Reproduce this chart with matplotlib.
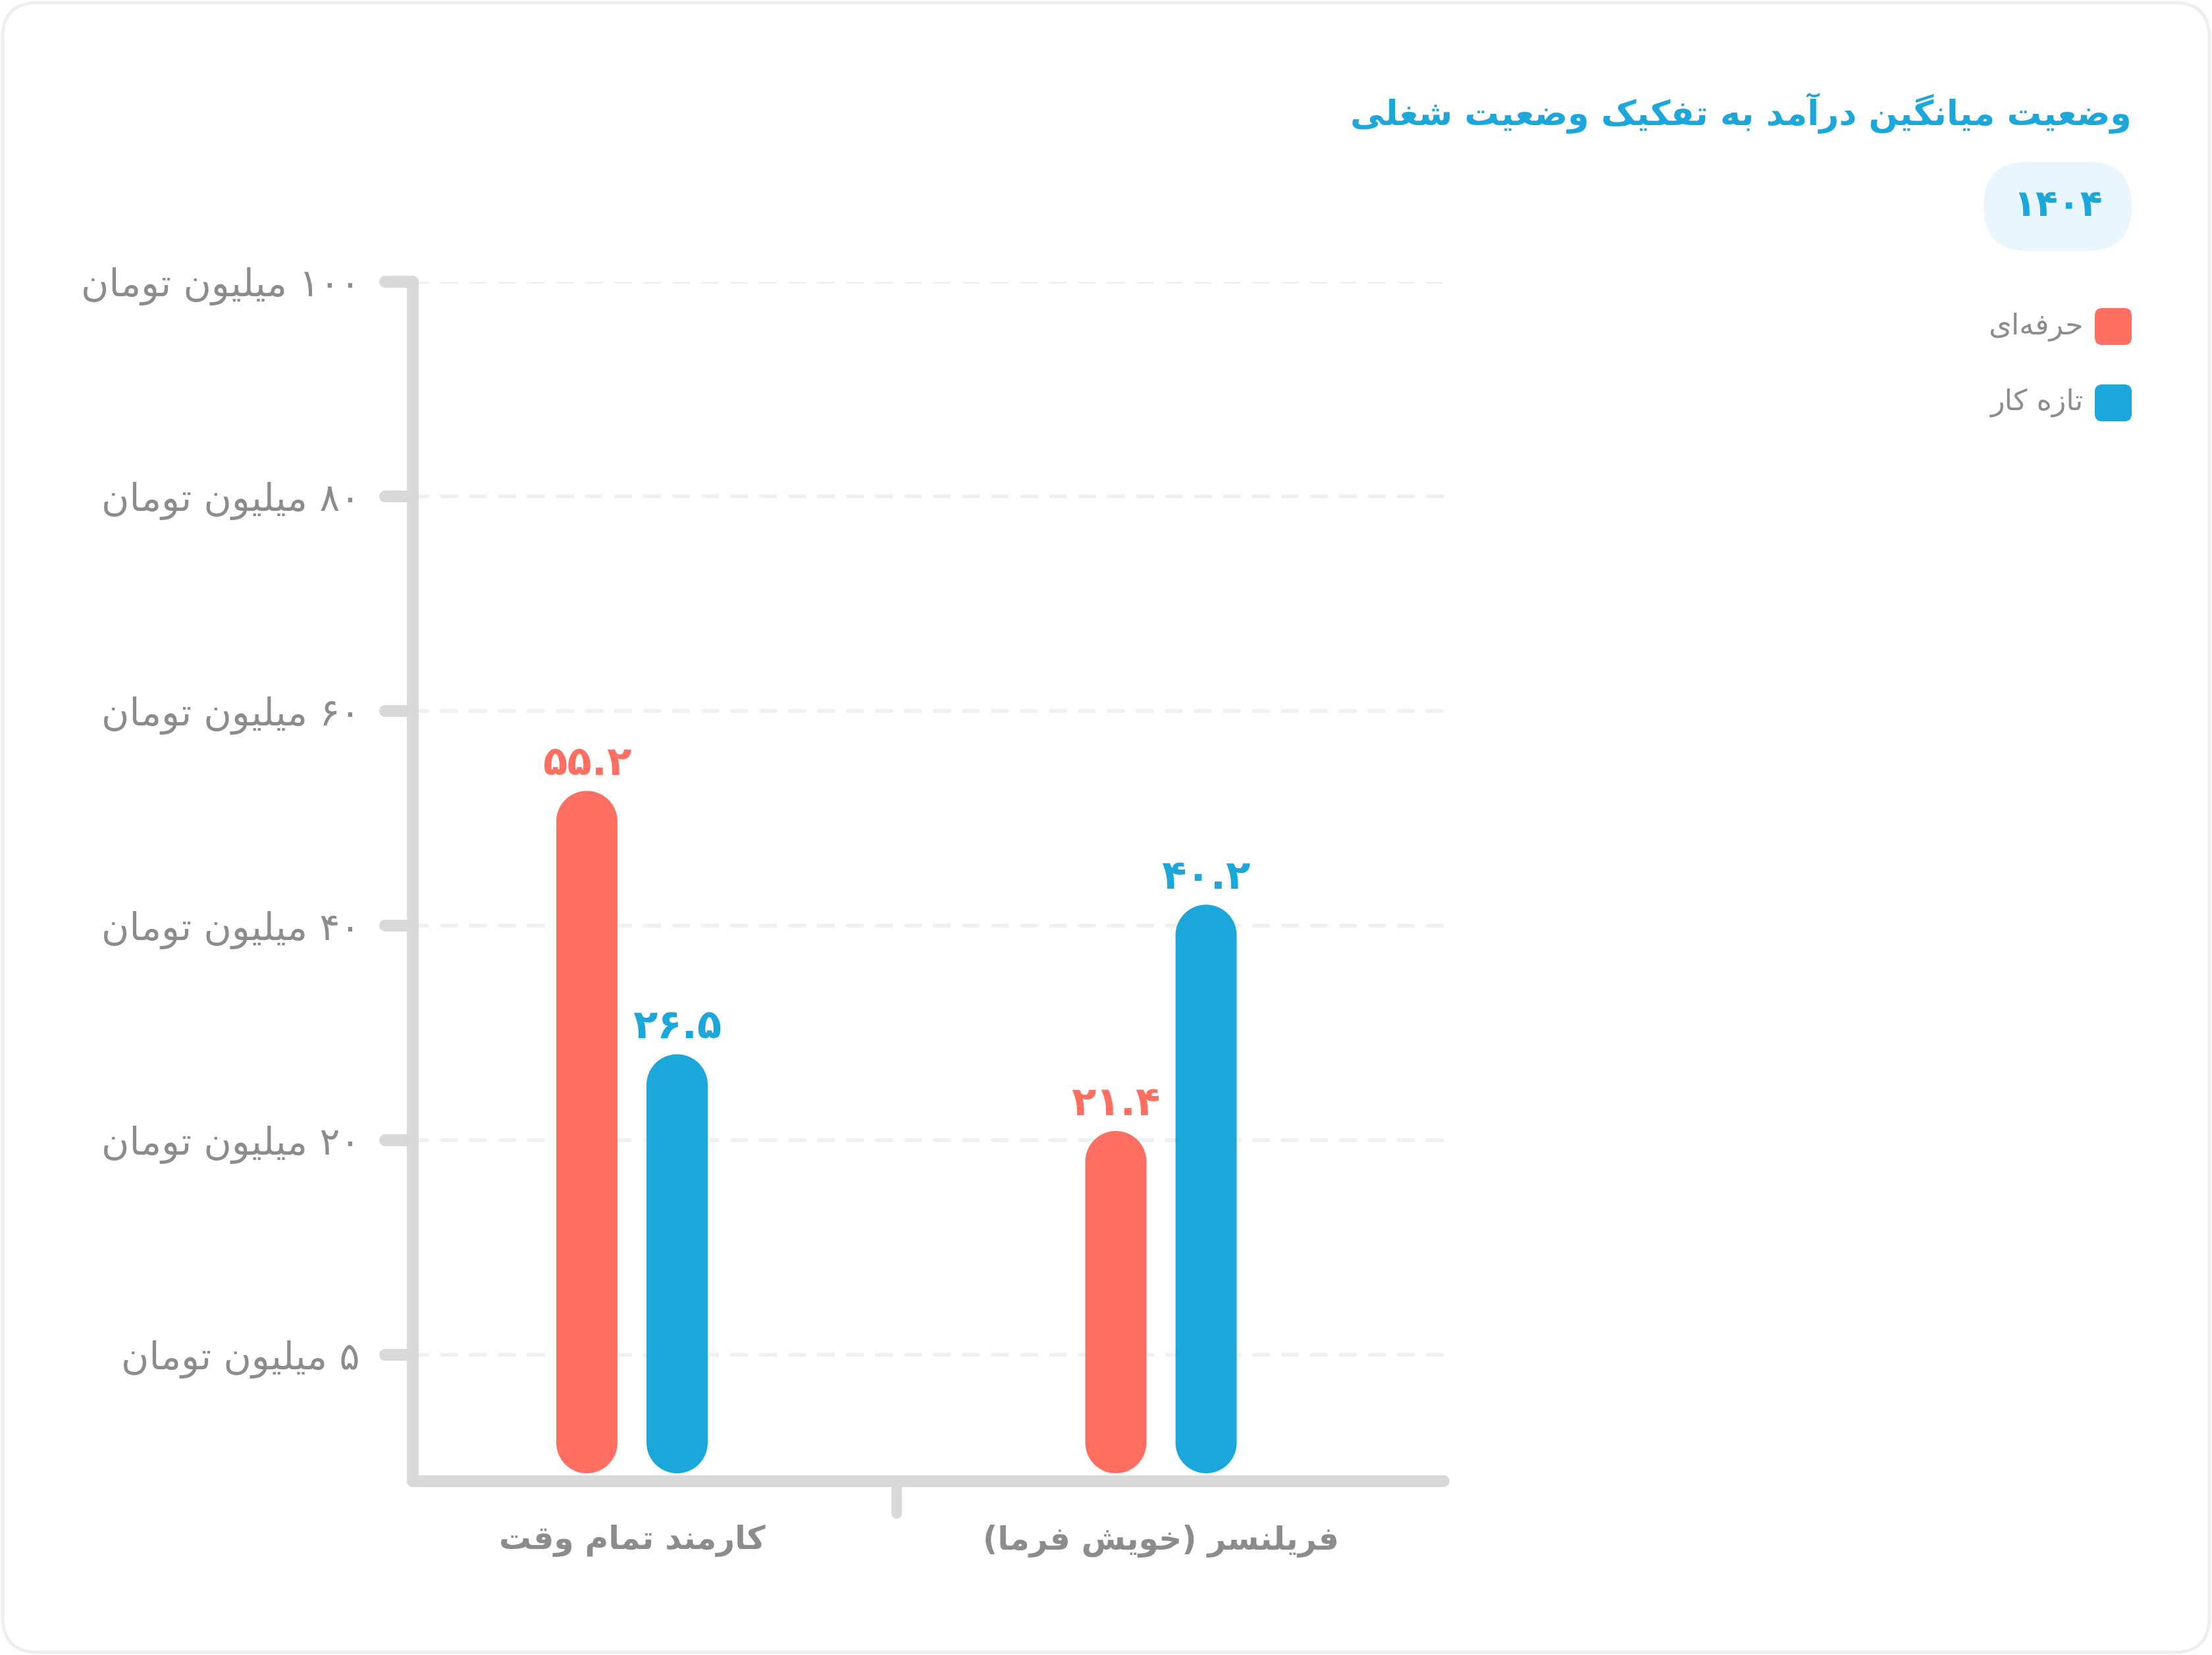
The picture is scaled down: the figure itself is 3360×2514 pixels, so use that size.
import matplotlib
matplotlib.use("Agg")
import matplotlib.pyplot as plt
from matplotlib.patches import FancyBboxPatch, Polygon
import matplotlib.transforms as mtransforms
import numpy as np

# ---------------- data ----------------
title_text = "وضعیت میانگین درآمد به تفکیک وضعیت شغلی"
year_text = "۱۴۰۴"
categories = ["کارمند تمام وقت", "فریلنسر (خویش فرما)"]
series_names = ["حرفه‌ای", "تازه کار"]
professional = [55.2, 21.4]
newcomer = [26.5, 40.2]
ytick_labels = ["۵ میلیون تومان", "۲۰ میلیون تومان", "۴۰ میلیون تومان",
                "۶۰ میلیون تومان", "۸۰ میلیون تومان", "۱۰۰ میلیون تومان"]

# ---------------- style ----------------
RED = "#FF6F61"
BLUE = "#1CA7DB"
AXIS = "#D9D9D9"
GRID = "#F0F1F3"
TXT = "#8C8C8C"
PILL = "#E9F6FD"
CARD = "#EDEEF0"
FONT = ["DejaVu Sans"]
plt.rcParams["font.family"] = FONT

W, H, DPI = 3360, 2514, 200
PT = 72.0 / DPI  # points per pixel

# ---------------- Persian shaping helpers ----------------
FORMS = {
    "\u0627": ("\uFE8D", "\uFE8E", None, None),
    "\u0622": ("\uFE81", "\uFE82", None, None),
    "\u0628": ("\uFE8F", "\uFE90", "\uFE91", "\uFE92"),
    "\u067E": ("\uFB56", "\uFB57", "\uFB58", "\uFB59"),
    "\u062A": ("\uFE95", "\uFE96", "\uFE97", "\uFE98"),
    "\u062B": ("\uFE99", "\uFE9A", "\uFE9B", "\uFE9C"),
    "\u062C": ("\uFE9D", "\uFE9E", "\uFE9F", "\uFEA0"),
    "\u0686": ("\uFB7A", "\uFB7B", "\uFB7C", "\uFB7D"),
    "\u062D": ("\uFEA1", "\uFEA2", "\uFEA3", "\uFEA4"),
    "\u062E": ("\uFEA5", "\uFEA6", "\uFEA7", "\uFEA8"),
    "\u062F": ("\uFEA9", "\uFEAA", None, None),
    "\u0630": ("\uFEAB", "\uFEAC", None, None),
    "\u0631": ("\uFEAD", "\uFEAE", None, None),
    "\u0632": ("\uFEAF", "\uFEB0", None, None),
    "\u0698": ("\uFB8A", "\uFB8B", None, None),
    "\u0633": ("\uFEB1", "\uFEB2", "\uFEB3", "\uFEB4"),
    "\u0634": ("\uFEB5", "\uFEB6", "\uFEB7", "\uFEB8"),
    "\u0635": ("\uFEB9", "\uFEBA", "\uFEBB", "\uFEBC"),
    "\u0636": ("\uFEBD", "\uFEBE", "\uFEBF", "\uFEC0"),
    "\u0637": ("\uFEC1", "\uFEC2", "\uFEC3", "\uFEC4"),
    "\u0638": ("\uFEC5", "\uFEC6", "\uFEC7", "\uFEC8"),
    "\u0639": ("\uFEC9", "\uFECA", "\uFECB", "\uFECC"),
    "\u063A": ("\uFECD", "\uFECE", "\uFECF", "\uFED0"),
    "\u0641": ("\uFED1", "\uFED2", "\uFED3", "\uFED4"),
    "\u0642": ("\uFED5", "\uFED6", "\uFED7", "\uFED8"),
    "\u06A9": ("\uFB8E", "\uFB8F", "\uFB90", "\uFB91"),
    "\u06AF": ("\uFB92", "\uFB93", "\uFB94", "\uFB95"),
    "\u0644": ("\uFEDD", "\uFEDE", "\uFEDF", "\uFEE0"),
    "\u0645": ("\uFEE1", "\uFEE2", "\uFEE3", "\uFEE4"),
    "\u0646": ("\uFEE5", "\uFEE6", "\uFEE7", "\uFEE8"),
    "\u0647": ("\uFEE9", "\uFEEA", "\uFEEB", "\uFEEC"),
    "\u0648": ("\uFEED", "\uFEEE", None, None),
    "\u06CC": ("\uFBFC", "\uFBFD", "\uFBFE", "\uFBFF"),
}
LAMALEF = {"\u0627": ("\uFEFB", "\uFEFC"), "\u0622": ("\uFEF5", "\uFEF6")}
MIRROR = {"(": ")", ")": "(", "[": "]", "]": "["}


def _joins_next(c):
    return c in FORMS and FORMS[c][2] is not None


def shape(s):
    out, i, n = [], 0, len(s)
    while i < n:
        c = s[i]
        if c == "\u200c":
            i += 1
            continue
        if c not in FORMS:
            out.append(c)
            i += 1
            continue
        prev = s[i - 1] if i > 0 else None
        nxt = s[i + 1] if i + 1 < n else None
        p = prev is not None and _joins_next(prev)
        if c == "\u0644" and nxt in LAMALEF:
            out.append(LAMALEF[nxt][1] if p else LAMALEF[nxt][0])
            i += 2
            continue
        q = _joins_next(c) and nxt is not None and nxt in FORMS
        iso, fin, ini, med = FORMS[c]
        out.append(med if (p and q) else fin if p else ini if q else iso)
        i += 1
    return "".join(out)


def rtl(s):
    t = shape(s)
    tokens, i = [], 0
    while i < len(t):
        if t[i].isdigit():
            j = i
            while j < len(t) and (t[j].isdigit() or
                                  (t[j] in ".٫" and j + 1 < len(t) and t[j + 1].isdigit())):
                j += 1
            tokens.append(t[i:j])
            i = j
        else:
            tokens.append(MIRROR.get(t[i], t[i]))
            i += 1
    return "".join(reversed(tokens))


def fa_num(v):
    return f"{v:.1f}".translate(str.maketrans("0123456789", "۰۱۲۳۴۵۶۷۸۹"))


# ---------------- figure ----------------
fig = plt.figure(figsize=(W / DPI, H / DPI), dpi=DPI)
fig.patch.set_facecolor("white")
T = mtransforms.Affine2D().scale(1, -1).translate(0, H)  # image px (y down) -> display

card = FancyBboxPatch((4, 4), W - 8, H - 8, boxstyle="round,pad=0,rounding_size=54",
                      transform=T, fc="white", ec=CARD, lw=5 * PT, zorder=-5)
fig.add_artist(card)

# axes rectangle (pixels)
AX_L, AX_R, AX_T, AX_B = 627, 2193, 428, 2250
ax = fig.add_axes([AX_L / W, (H - AX_B) / H, (AX_R - AX_L) / W, (AX_B - AX_T) / H])
ax.patch.set_visible(False)

x_pos = list(range(len(categories)))
ax.set_xlim(-0.4144, 1.5345)
ax.set_ylim(-0.589, len(ytick_labels) - 1)

# y ticks / grid
ax.set_yticks(range(len(ytick_labels)))
ax.set_yticklabels([rtl(s) for s in ytick_labels], color=TXT, fontsize=20.8)
ax.tick_params(axis="y", length=0, pad=80 * PT)
ax.yaxis.grid(True, color=GRID, linewidth=6 * PT, linestyle=(0, (3.67, 3.67)),
              dash_capstyle="round")
ax.set_axisbelow(True)

ax.set_xticks(x_pos)
ax.set_xticklabels([rtl(s) for s in categories], color=TXT, fontsize=17.5, fontweight="bold")
ax.tick_params(axis="x", length=0, pad=66 * PT)

for side in ("top", "right"):
    ax.spines[side].set_visible(False)
for side in ("left", "bottom"):
    ax.spines[side].set_color(AXIS)
    ax.spines[side].set_linewidth(18 * PT)
    ax.spines[side].set_capstyle("round")

# custom rounded tick marks
ty = mtransforms.blended_transform_factory(ax.transAxes, ax.transData)
for k in range(len(ytick_labels)):
    ax.plot([-42 / (AX_R - AX_L), 0], [k, k], transform=ty, color=AXIS,
            lw=18 * PT, solid_capstyle="round", clip_on=False, zorder=3)
tx = mtransforms.blended_transform_factory(ax.transData, ax.transAxes)
ax.plot([0.5, 0.5], [0, -49 / (AX_B - AX_T)], transform=tx, color=AXIS,
        lw=16 * PT, solid_capstyle="round", clip_on=False, zorder=3)

# value axes (log scale) for the bars
ax2 = ax.twinx()
ax2.set_yscale("log")
ax2.set_ylim(8.067, 227.96)
ax2.set_xlim(ax.get_xlim())
ax2.axis("off")

off, bw = 0.0853, 0.1157
base = ax2.get_ylim()[0]
bars_p = ax2.bar([x - off for x in x_pos], [v - base for v in professional],
                 bottom=base, width=bw, color=RED)
bars_n = ax2.bar([x + off for x in x_pos], [v - base for v in newcomer],
                 bottom=base, width=bw, color=BLUE)

for vals, col, sgn in ((professional, RED, -1), (newcomer, BLUE, 1)):
    for x, v in zip(x_pos, vals):
        ax2.annotate(fa_num(v), xy=(x + sgn * off, v), xytext=(0, 24 * PT),
                     textcoords="offset points", ha="center", va="baseline",
                     color=col, fontsize=22, fontweight="bold")

# replace rectangles by fully rounded (stadium) bars, in display space
fig.canvas.draw()
GAP = 12
th = np.linspace(0, np.pi, 60)
for cont, col in ((bars_p, RED), (bars_n, BLUE)):
    for rect in cont.patches:
        bb = rect.get_window_extent()
        r = bb.width / 2
        xc = (bb.x0 + bb.x1) / 2
        yt, yb = bb.y1, bb.y0 + GAP
        top = np.column_stack([xc + r * np.cos(th), yt - r + r * np.sin(th)])
        bot = np.column_stack([xc - r * np.cos(th), yb + r - r * np.sin(th)])
        fig.add_artist(Polygon(np.vstack([top, bot]), closed=True,
                               transform=mtransforms.IdentityTransform(),
                               fc=col, ec="none", zorder=2))
        rect.set_visible(False)

# ---------------- title, badge, legend ----------------
fig.text(3238, 172, rtl(title_text), transform=T, ha="right", va="center",
         color=BLUE, fontsize=18.8, fontweight="bold")

fig.add_artist(FancyBboxPatch((3013, 246), 225, 135, boxstyle="round,pad=0,rounding_size=67",
                              transform=T, fc=PILL, ec="none", zorder=1))
fig.text(3126, 313, rtl(year_text), transform=T, ha="center", va="center",
         color=BLUE, fontsize=20, fontweight="bold", zorder=2)

for i, (name, col) in enumerate(zip(series_names, (RED, BLUE))):
    yc = 496 + i * 116
    fig.add_artist(FancyBboxPatch((3182, yc - 28), 56, 56, boxstyle="round,pad=0,rounding_size=11",
                                  transform=T, fc=col, ec="none", zorder=1))
    fig.text(3165, yc, rtl(name), transform=T, ha="right", va="center",
             color=TXT, fontsize=16)

fig.savefig("out.png", dpi=DPI, facecolor="white")
